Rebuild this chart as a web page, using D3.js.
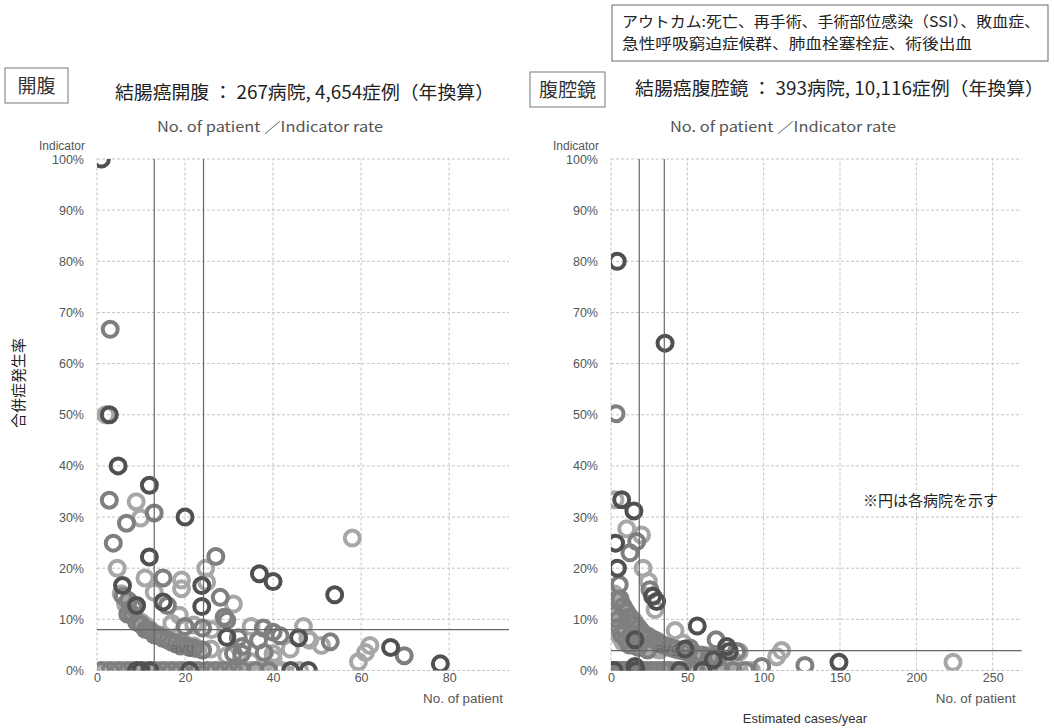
<!DOCTYPE html>
<html><head><meta charset="utf-8">
<script src="https://cdn.jsdelivr.net/npm/d3@7"></script>
<style>
body{margin:0;background:#fff;}
svg text{font-family:"Noto Sans CJK JP","Noto Sans",sans-serif;}
</style></head><body>
<svg id="chart" width="1054" height="728"></svg>
<script>
// ---- Hospitals: [annual cases, complication rate] by ring tone group ----
const openDark = [[1,1.00],[2.8,0.50],[4.8,0.40],[11.9,0.362],[20,0.30],[11.9,0.222],[36.9,0.189],[40,0.174],[5.8,0.166],[23.8,0.166],[54,0.148],[15,0.134],[23.8,0.125],[9,0.127],[45.8,0.064],[29.5,0.065],[66.7,0.045],[78,0.013],[9,0],[10,0],[12,0],[21,0],[44,0],[48,0]];
const openMid = [[3,0.667],[2.8,0.333],[13,0.308],[6.7,0.288],[3.7,0.249],[27,0.223],[15,0.181],[28,0.143],[16,0.127],[7.1,0.137],[8.3,0.123],[28.9,0.104],[29.5,0.098],[40,0.075],[41.6,0.068],[37.8,0.083],[32.1,0.064],[36.7,0.059],[53,0.056],[69.8,0.029],[31,0.033],[32.9,0.033],[6,0.145],[8,0.11],[10,0.09],[12,0.078],[14,0.068],[16,0.06],[18,0.054],[20,0.049],[22,0.044],[24,0.04],[20,0.086],[24,0.083],[33,0.047],[38,0.035],[7,0.11],[9,0.095],[11,0.08],[13,0.07],[15,0.063],[17,0.055],[19,0.048],[21,0.045],[1,0],[3,0],[5,0],[7,0],[13,0],[15,0],[17,0],[19,0],[23,0],[25,0],[27,0],[29,0],[31,0],[33,0],[36,0],[39,0]];
const openLight = [[2,0.50],[8.9,0.33],[9.9,0.298],[58,0.259],[4.6,0.20],[24.7,0.20],[10.9,0.181],[19.2,0.177],[19.2,0.16],[13,0.153],[24.9,0.173],[31,0.13],[18.7,0.108],[35,0.086],[46.9,0.086],[48.3,0.059],[47.9,0.062],[51,0.049],[59.4,0.017],[61,0.035],[62,0.049],[25.9,0.042],[40,0.033],[40,0.023],[43.9,0.042],[29.5,0.029],[7,0.125],[9,0.10],[11,0.084],[13,0.073],[15,0.064],[17,0.057],[19,0.051],[21,0.046],[23,0.042],[17,0.092],[22,0.089],[26,0.08],[35,0.017],[5.5,0.15],[6.5,0.13],[7.5,0.115],[8.5,0.105],[10,0.095],[11,0.088],[12,0.08],[14,0.07],[16,0.062],[18,0.056],[20,0.052],[22,0.048],[2,0],[4,0],[6,0],[8,0],[11,0],[14,0],[16,0],[18,0],[20,0],[22,0],[26,0],[28,0],[30,0],[32,0],[34,0],[35,0],[37,0],[41,0],[42,0],[46,0]];

const lapDark = [[4.1,0.80],[35.4,0.64],[7,0.334],[15,0.312],[3,0.249],[4.2,0.20],[27.3,0.145],[29.9,0.135],[56.5,0.087],[15.7,0.06],[67,0.021],[77.5,0.037],[75.8,0.047],[48.5,0.042],[149.3,0.016],[15.7,0.008],[2,0],[16.5,0],[45,0],[60,0]];
const lapMid = [[3.3,0.502],[16.8,0.252],[12.4,0.23],[5.4,0.168],[25.5,0.158],[68.8,0.06],[82.3,0.037],[127,0.01],[51.7,0.044],[16.8,0.054],[98.7,0.008],[6,0.14],[8,0.125],[10,0.115],[12,0.105],[14,0.095],[16,0.09],[18,0.083],[20,0.076],[22,0.07],[25,0.065],[28,0.06],[31,0.055],[34,0.05],[38,0.046],[42,0.042],[46,0.039],[50,0.036],[55,0.032],[60,0.03],[65,0.027],[70,0.025],[3.7,0.138],[4.5,0.099],[9,0.08],[13,0.065],[3,0.11],[5,0.085],[7,0.07],[10,0.06],[12,0.05],[18,0.045],[24,0.04],[1,0],[3,0],[5,0],[7,0],[9,0],[11,0],[13,0],[19,0],[22,0],[26,0],[30,0],[34,0],[38,0],[43,0],[50,0],[56,0],[64,0],[72,0],[80,0],[88,0]];
const lapLight = [[2.6,0.334],[10.3,0.277],[20,0.265],[21,0.20],[24.5,0.174],[28.8,0.119],[42,0.078],[84,0.036],[111.8,0.039],[108.5,0.027],[224,0.016],[47,0.054],[7,0.13],[9,0.12],[11,0.11],[13,0.10],[15,0.098],[17,0.088],[19,0.08],[21,0.072],[24,0.068],[27,0.062],[30,0.058],[33,0.052],[36,0.048],[40,0.044],[44,0.04],[48,0.037],[52,0.034],[58,0.031],[63,0.029],[68,0.026],[75,0.023],[80,0.02],[3.4,0.119],[5,0.12],[6,0.10],[8,0.09],[11,0.07],[2,0.15],[3,0.14],[4,0.13],[5,0.105],[6,0.115],[7,0.095],[8,0.105],[9,0.095],[10,0.085],[11,0.09],[12,0.075],[14,0.07],[16,0.065],[18,0.06],[20,0.055],[23,0.05],[26,0.045],[29,0.042],[32,0.04],[4,0.08],[6,0.065],[8,0.055],[14,0.05],[2,0],[4,0],[6,0],[8,0],[10,0],[12,0],[14,0],[18,0],[20,0],[24,0],[28,0],[32,0],[36,0],[40,0],[47,0],[53,0],[60,0],[68,0],[76,0],[84,0],[92,0]];

// Reference lines (case-volume cut-offs and average rate)
const openRefX = [13.0, 24.2];
const openRefY = 0.080;
const lapRefX = [18.5, 34.9];
const lapRefY = 0.039;

// Axis ticks
const rateTicks = [0,0.1,0.2,0.3,0.4,0.5,0.6,0.7,0.8,0.9,1.0];
const openXTicks = [0,20,40,60,80];
const lapXTicks = [0,50,100,150,200,250];

// Text
const outcomeLines = ["アウトカム:死亡、再手術、手術部位感染（SSI）、敗血症、","急性呼吸窮迫症候群、肺血栓塞栓症、術後出血"];
const openTag = "開腹", lapTag = "腹腔鏡";
const openTitle = "結腸癌開腹 ： 267病院,  4,654症例（年換算）";
const lapTitle = "結腸癌腹腔鏡 ： 393病院,  10,116症例（年換算）";
const subTitle = "No. of patient  ／Indicator rate";
const yLabel = "合併症発生率";
const note = "※円は各病院を示す";

const tone = d3.scaleOrdinal().domain(["light","mid","dark"]).range(["#a7a7a7","#7f7f7f","#505050"]);

const svg = d3.select("#chart");
const Y0 = 670.5, Y1 = 159;

function panel(opt){
  const x = d3.scaleLinear().domain([0, opt.xMax]).range([opt.x0, opt.x1]);
  const y = d3.scaleLinear().domain([0, 1]).range([Y0, Y1]);
  const g = svg.append("g");
  const clipId = "clip-" + opt.key;
  svg.append("clipPath").attr("id", clipId).append("rect")
    .attr("x", opt.x0).attr("y", Y1).attr("width", opt.x1 - opt.x0).attr("height", Y0 - Y1);

  // dashed grid
  g.append("g").selectAll("line").data(rateTicks).join("line")
    .attr("x1", opt.x0).attr("x2", opt.x1).attr("y1", d => y(d)).attr("y2", d => y(d))
    .attr("stroke", "#c4c4c4").attr("stroke-dasharray", "3,2").attr("stroke-width", 1);
  g.append("g").selectAll("line").data(opt.xTicks).join("line")
    .attr("x1", d => x(d)).attr("x2", d => x(d)).attr("y1", Y0).attr("y2", Y1)
    .attr("stroke", "#c4c4c4").attr("stroke-dasharray", "3,2").attr("stroke-width", 1);

  // axes (labels only)
  const ya = g.append("g").attr("transform", `translate(${opt.x0},0)`)
    .call(d3.axisLeft(y).tickValues(rateTicks).tickFormat(d3.format(".0%")).tickSize(0).tickPadding(13));
  const xa = g.append("g").attr("transform", `translate(0,${Y0})`)
    .call(d3.axisBottom(x).tickValues(opt.xTicks).tickSize(0).tickPadding(3));
  [ya, xa].forEach(a => {
    a.select(".domain").remove();
    a.selectAll("text").attr("font-size", 12.5).attr("fill", "#555")
      .style("font-family", "'Liberation Sans','Noto Sans',sans-serif");
  });

  // hospital rings
  const marks = g.append("g").attr("clip-path", `url(#${clipId})`);
  opt.groups.forEach(([name, pts]) => {
    marks.append("g").selectAll("circle").data(pts).join("circle")
      .attr("cx", d => x(d[0])).attr("cy", d => y(d[1])).attr("r", 7.5)
      .attr("fill", "none").attr("stroke", tone(name)).attr("stroke-width", 4);
  });

  // reference lines
  g.append("g").selectAll("line").data(opt.refX).join("line")
    .attr("x1", d => x(d)).attr("x2", d => x(d)).attr("y1", Y0).attr("y2", Y1)
    .attr("stroke", "#666").attr("stroke-width", 1.2);
  g.append("line").attr("x1", opt.x0).attr("x2", opt.x1)
    .attr("y1", y(opt.refY)).attr("y2", y(opt.refY))
    .attr("stroke", "#666").attr("stroke-width", 1.2);
  g.append("text").attr("x", x(opt.refX[0]) + 16).attr("y", 653)
    .attr("font-size", 15).attr("fill", "#666").attr("fill-opacity", 0.8)
    .style("font-family", "'Liberation Sans',sans-serif").text("avg");

  // axis captions
  g.append("text").attr("x", opt.x0 - 12).attr("y", 150).attr("text-anchor", "end")
    .attr("font-size", 12).attr("fill", "#555")
    .style("font-family", "'Liberation Sans',sans-serif").text("Indicator");
  g.append("text").attr("x", opt.x1 - 6).attr("y", 703).attr("text-anchor", "end")
    .attr("font-size", 12.5).attr("fill", "#555").attr("textLength", 80).attr("lengthAdjust", "spacingAndGlyphs")
    .style("font-family", "'Liberation Sans',sans-serif").text("No. of patient");
  g.append("text").attr("x", opt.subX).attr("y", 132)
    .attr("font-size", 14).attr("fill", "#555").attr("textLength", 226).attr("lengthAdjust", "spacingAndGlyphs")
    .text(subTitle);

  // tag box + title
  const tb = g.append("g");
  tb.append("rect").attr("x", opt.tag[0]).attr("y", opt.tag[1]).attr("width", opt.tag[2]).attr("height", opt.tag[3])
    .attr("fill", "#fff").attr("stroke", "#777").attr("stroke-width", 1);
  tb.append("text").attr("x", opt.tag[0] + opt.tag[2] / 2).attr("y", opt.tag[1] + opt.tag[3] / 2 + 7)
    .attr("text-anchor", "middle").attr("font-size", 19).attr("fill", "#333").text(opt.tagText);
  g.append("text").attr("x", opt.titleX).attr("y", opt.titleY).attr("font-size", 18)
    .attr("fill", "#222").attr("textLength", opt.titleW).attr("lengthAdjust", "spacingAndGlyphs").text(opt.title);
}

panel({key:"open", x0:97, x1:509, xMax:93.6, xTicks:openXTicks, refX:openRefX, refY:openRefY,
  groups:[["light",openLight],["mid",openMid],["dark",openDark]],
  subX:157, tag:[5,68,63,35], tagText:openTag, title:openTitle, titleX:115, titleY:99, titleW:379});
panel({key:"lap", x0:611, x1:1021.7, xMax:269, xTicks:lapXTicks, refX:lapRefX, refY:lapRefY,
  groups:[["light",lapLight],["mid",lapMid],["dark",lapDark]],
  subX:670, tag:[530,72,75,35], tagText:lapTag, title:lapTitle, titleX:635, titleY:95, titleW:409});

// outcome definition box
const ob = svg.append("g");
ob.append("rect").attr("x", 612).attr("y", 5).attr("width", 436).attr("height", 56)
  .attr("fill", "#fff").attr("stroke", "#666").attr("stroke-width", 1);
ob.selectAll("text").data(outcomeLines).join("text")
  .attr("x", 622).attr("y", (d, i) => 27 + i * 22).attr("font-size", 15).attr("fill", "#222")
  .attr("textLength", (d, i) => i === 0 ? 418 : 350).attr("lengthAdjust", "spacingAndGlyphs").text(d => d);

// shared captions
svg.append("text").attr("transform", "translate(24,383) rotate(-90)").attr("text-anchor", "middle")
  .attr("font-size", 15).attr("fill", "#222").text(yLabel);
svg.append("text").attr("x", 863).attr("y", 506).attr("font-size", 15).attr("fill", "#222").text(note);
svg.append("text").attr("x", 805).attr("y", 723).attr("text-anchor", "middle").attr("font-size", 13)
  .attr("fill", "#333").style("font-family", "'Liberation Sans',sans-serif").text("Estimated cases/year");
</script></body></html>
